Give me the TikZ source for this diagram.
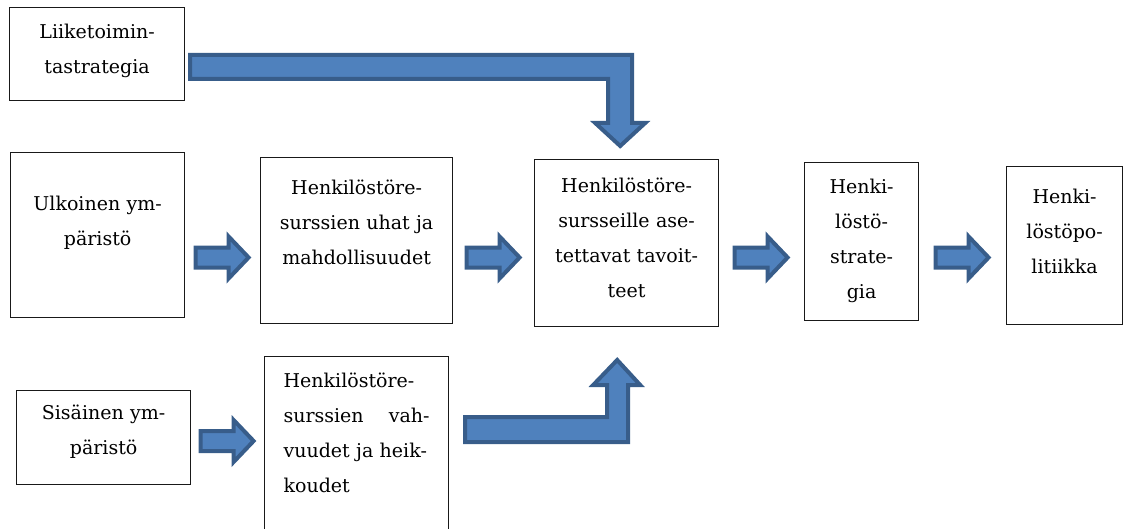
\documentclass[tikz,border=0pt]{standalone}
\usepackage{fontspec}
\setmainfont{DejaVu Serif}
\usetikzlibrary{calc}
\definecolor{arrowfill}{HTML}{4F81BD}
\definecolor{arrowline}{HTML}{385D8A}

\begin{document}
\begin{tikzpicture}[
  x=1pt, y=-1pt,
  box/.style={draw=black!90, line width=1.2pt, anchor=north west, align=center, inner xsep=4pt, inner ysep=0pt, font=\fontsize{19}{35}\selectfont},
  fat/.style={draw=arrowline, fill=arrowfill, line width=4pt, line join=miter},
  barrow/.pic={\filldraw[fat] (-27,-10) -- (6,-10) -- (6,-21) -- (26,0) -- (6,21) -- (6,10) -- (-27,10) -- cycle;}
]
\useasboundingbox (0,0) rectangle (1123,529);

\node[box, text width=167pt, text height=31pt, text depth=62pt]  (liike) at (9,7)     {Liiketoimin-\\tastrategia};
\node[box, text width=166pt, text height=58pt, text depth=107pt] (ulk)   at (10,152)  {Ulkoinen ym-\\päristö};
\node[box, text width=166pt, text height=29pt, text depth=65pt]  (sis)   at (16,390)  {Sisäinen ym-\\päristö};
\node[box, text width=184pt, text height=37pt, text depth=129pt] (uhat)  at (260,157) {Henkilöstöre-\\surssien uhat ja\\mahdollisuudet};
\node[box, align=left, minimum width=184pt, text width=146pt, text height=31pt, text depth=145pt] (vahv) at (264,356) {Henkilöstöre-\\surssien\hfill vah-\\vuudet ja heik-\\koudet};
\node[box, text width=176pt, text height=33pt, text depth=134pt] (tav)   at (534,159) {Henkilöstöre-\\sursseille ase-\\tettavat tavoit-\\teet};
\node[box, text width=106pt, text height=31pt, text depth=127pt] (strat) at (804,162) {Henki-\\löstö-\\strate-\\gia};
\node[box, text width=108pt, text height=37pt, text depth=121pt] (pol)   at (1006,166) {Henki-\\löstöpo-\\litiikka};

\coordinate (row)  at (0,257.5);
\coordinate (row2) at (0,441);

\pic at ($(ulk.east |- row)!0.5!(uhat.west |- row)$)    {barrow};
\pic at ($(uhat.east |- row)!0.5!(tav.west |- row)$)    {barrow};
\pic at ($(tav.east |- row)!0.5!(strat.west |- row)$)   {barrow};
\pic at ($(strat.east |- row)!0.5!(pol.west |- row)$)   {barrow};
\pic at ($(sis.east |- row2)!0.5!(vahv.west |- row2)$)  {barrow};

\filldraw[fat] (liike.north east) ++(5,48) -- ++(442,0) -- ++(0,68) -- ++(13,0) -- ++(-25,23) -- ++(-25,-23) -- ++(13,0) -- ++(0,-44) -- ++(-418,0) -- cycle;
\filldraw[fat] (vahv.north east) ++(16,61) -- ++(142,0) -- ++(0,-32) -- ++(-14,0) -- ++(24,-25) -- ++(23,25) -- ++(-12,0) -- ++(0,57) -- ++(-163,0) -- cycle;
\end{tikzpicture}
\end{document}
